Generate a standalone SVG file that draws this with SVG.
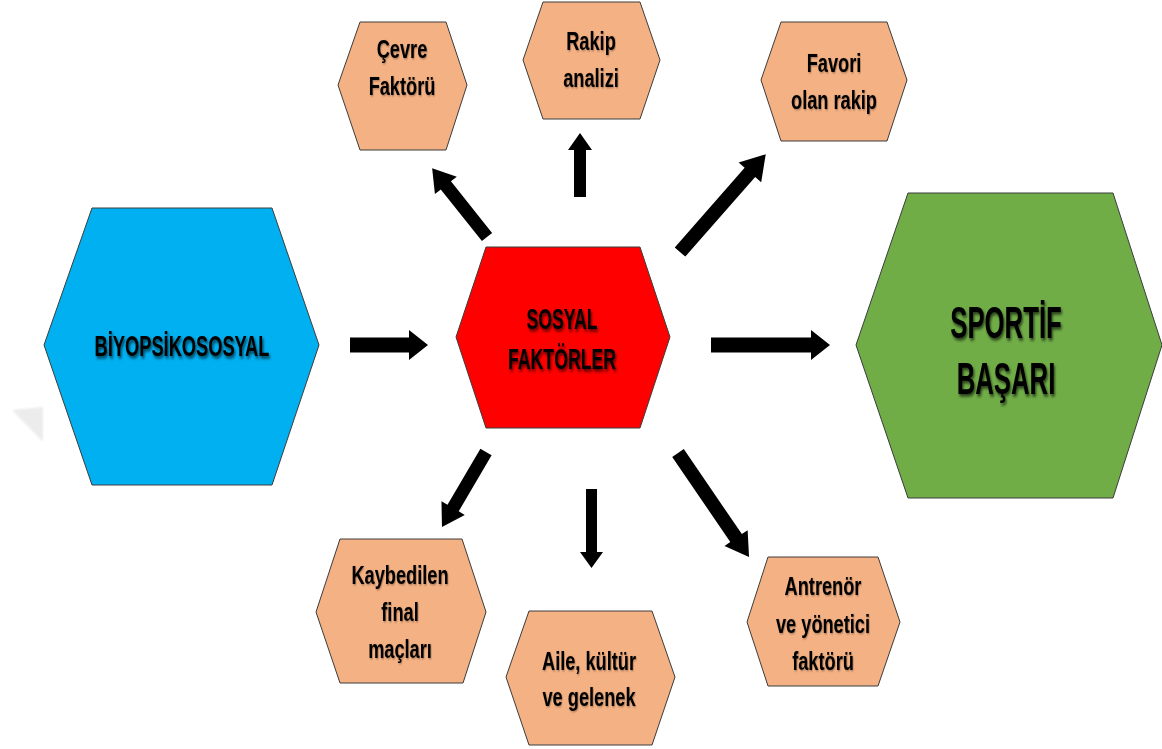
<svg xmlns="http://www.w3.org/2000/svg" width="1162" height="749" viewBox="0 0 1162 749">
  <defs>
    <filter id="shadowBig" x="-20%" y="-30%" width="140%" height="160%">
      <feDropShadow dx="2" dy="2.5" stdDeviation="1.6" flood-color="#000" flood-opacity="0.65"/>
    </filter>
    <filter id="shadowSmall" x="-20%" y="-30%" width="140%" height="160%">
      <feDropShadow dx="1" dy="1" stdDeviation="0.8" flood-color="#000" flood-opacity="0.35"/>
    </filter>
    <filter id="soft" x="-30%" y="-30%" width="160%" height="160%">
      <feGaussianBlur stdDeviation="0.8"/>
    </filter>
  </defs>
  <style>
    .hex { stroke: #3c3c3c; stroke-width: 1; stroke-linejoin: miter; }
    .peach { fill: #F4B183; }
    .blue { fill: #00B0F0; }
    .red { fill: #FF0000; }
    .green { fill: #70AD47; }
    .arrow { fill: #000; }
    text { font-family: "Liberation Sans", Arial, sans-serif; font-weight: bold; fill: #000; text-anchor: middle; }
    .small { font-size: 26px; filter: url(#shadowSmall); }
    .big { font-size: 29px; filter: url(#shadowBig); }
    .huge { font-size: 44px; filter: url(#shadowBig); }
  </style>

  <!-- faint grey corner wedge at the left edge -->
  <polygon points="12,410 43,407 43,442" fill="#ececec" filter="url(#soft)"/>

  <!-- main hexagons -->
  <g id="node-biyopsikososyal">
    <polygon class="hex blue" points="92,208 272,208 319,345 272,485 92,485 44,345"/>
    <g transform="translate(182,0) scale(0.63,1)">
      <text class="big" x="0" y="356">BİYOPSİKOSOSYAL</text>
    </g>
  </g>

  <g id="node-sosyal-faktorler">
    <polygon class="hex red" points="486,247 640,247 670,337 640,428 486,428 456,337"/>
    <g transform="translate(562,0) scale(0.61,1)">
      <text class="big" x="0" y="329">SOSYAL</text>
      <text class="big" x="0" y="369">FAKTÖRLER</text>
    </g>
  </g>

  <g id="node-sportif-basari">
    <polygon class="hex green" points="908,193 1113,193 1162,345 1113,498 908,498 856,345"/>
    <g transform="translate(1006,0) scale(0.585,1)">
      <text class="huge" x="0" y="338">SPORTİF</text>
      <text class="huge" x="0" y="394">BAŞARI</text>
    </g>
  </g>

  <!-- social factor hexagons -->
  <g id="node-cevre">
    <polygon class="hex peach" points="360,22 446,22 467,85 446,150 360,150 338,85"/>
    <g transform="translate(402,0) scale(0.7,1)">
      <text class="small" x="0" y="58">Çevre</text>
      <text class="small" x="0" y="95">Faktörü</text>
    </g>
  </g>

  <g id="node-rakip">
    <polygon class="hex peach" points="543,2 640,2 660,60 640,119 543,119 523,60"/>
    <g transform="translate(591,0) scale(0.7,1)">
      <text class="small" x="0" y="50">Rakip</text>
      <text class="small" x="0" y="87">analizi</text>
    </g>
  </g>

  <g id="node-favori">
    <polygon class="hex peach" points="781,22 887,22 907,80 887,141 781,141 761,80"/>
    <g transform="translate(834,0) scale(0.7,1)">
      <text class="small" x="0" y="72">Favori</text>
      <text class="small" x="0" y="109">olan rakip</text>
    </g>
  </g>

  <g id="node-kaybedilen">
    <polygon class="hex peach" points="340,539 462,539 486,612 463,683 340,683 316,612"/>
    <g transform="translate(400,0) scale(0.7,1)">
      <text class="small" x="0" y="584">Kaybedilen</text>
      <text class="small" x="0" y="621">final</text>
      <text class="small" x="0" y="658">maçları</text>
    </g>
  </g>

  <g id="node-aile">
    <polygon class="hex peach" points="529,611 652,611 675,677 652,745 529,745 506,677"/>
    <g transform="translate(589,0) scale(0.7,1)">
      <text class="small" x="0" y="670">Aile, kültür</text>
      <text class="small" x="0" y="706">ve gelenek</text>
    </g>
  </g>

  <g id="node-antrenor">
    <polygon class="hex peach" points="768,557 878,557 900,622 878,686 768,686 747,622"/>
    <g transform="translate(823,0) scale(0.7,1)">
      <text class="small" x="0" y="595">Antrenör</text>
      <text class="small" x="0" y="633">ve yönetici</text>
      <text class="small" x="0" y="670">faktörü</text>
    </g>
  </g>

  <!-- block arrows: drawn along +x from the tail, then placed and rotated -->
  <g id="connectors">
    <!-- BİYOPSİKOSOSYAL to SOSYAL FAKTÖRLER -->
    <path class="arrow" transform="translate(350,345)" d="M0,-7.5 L59,-7.5 L59,-15 L78,0 L59,15 L59,7.5 L0,7.5 Z"/>
    <!-- SOSYAL FAKTÖRLER to SPORTİF BAŞARI -->
    <path class="arrow" transform="translate(711,345)" d="M0,-7.5 L100,-7.5 L100,-15 L119,0 L100,15 L100,7.5 L0,7.5 Z"/>
    <!-- up to Rakip analizi -->
    <path class="arrow" transform="translate(580,197) rotate(-90)" d="M0,-6 L47,-6 L47,-12 L64,0 L47,12 L47,6 L0,6 Z"/>
    <!-- up-left to Çevre Faktörü -->
    <path class="arrow" transform="translate(487,237) rotate(-128.56)" d="M0,-6.5 L66,-6.5 L66,-14 L88,0 L66,14 L66,6.5 L0,6.5 Z"/>
    <!-- up-right to Favori olan rakip -->
    <path class="arrow" transform="translate(680,252) rotate(-48.73)" d="M0,-7 L106,-7 L106,-15 L130,0 L106,15 L106,7 L0,7 Z"/>
    <!-- down-left to Kaybedilen final maçları -->
    <path class="arrow" transform="translate(486,452) rotate(120.4)" d="M0,-6.5 L65,-6.5 L65,-13.5 L87,0 L65,13.5 L65,6.5 L0,6.5 Z"/>
    <!-- down to Aile, kültür ve gelenek -->
    <path class="arrow" transform="translate(591.5,489) rotate(90)" d="M0,-5.5 L63,-5.5 L63,-11.5 L79,0 L63,11.5 L63,5.5 L0,5.5 Z"/>
    <!-- down-right to Antrenör ve yönetici faktörü -->
    <path class="arrow" transform="translate(678,453) rotate(55.68)" d="M0,-7 L103,-7 L103,-14 L126,0 L103,14 L103,7 L0,7 Z"/>
  </g>
</svg>
